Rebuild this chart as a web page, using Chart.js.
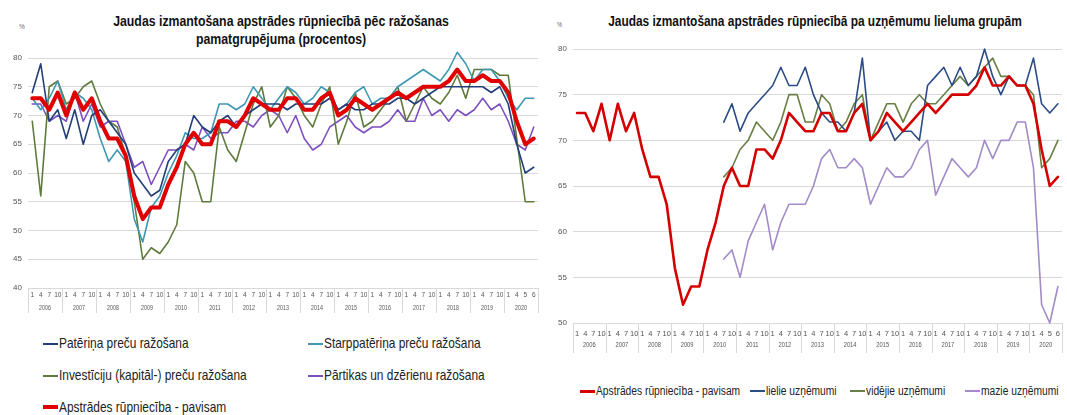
<!DOCTYPE html>
<html>
<head>
<meta charset="utf-8">
<script src="https://cdn.jsdelivr.net/npm/chart.js@4.4.1/dist/chart.umd.min.js"></script>
<style>
  html, body { margin:0; padding:0; background:#fff; }
  #wrap { position:relative; width:1067px; height:415px; overflow:hidden; background:#fff; font-family:"Liberation Sans", Arial, sans-serif; color:#000; }
  .abs { position:absolute; white-space:nowrap; line-height:1; }
  .ttl { font-weight:bold; color:#111; }
  .ctr { transform-origin:50% 50%; }
  .lft { transform-origin:0 50%; }
  .leg { position:absolute; height:0; }
  .leg .sw { position:absolute; left:0; }
  .pct { color:#666; }
  .cbox { position:absolute; }
</style>
</head>
<body>
<div id="wrap">
  <div id="t1a" class="abs ttl ctr" style="left:281px; top:13px; font-size:15px;">Jaudas izmantošana apstrādes rūpniecībā pēc ražošanas</div>
  <div id="t1b" class="abs ttl ctr" style="left:281px; top:31px; font-size:15px;">pamatgrupējuma (procentos)</div>
  <div id="t2" class="abs ttl ctr" style="left:815px; top:13.5px; font-size:14.5px;">Jaudas izmantošana apstrādes rūpniecībā pa uzņēmumu lieluma grupām</div>
  <div class="abs pct lft" style="left:19px; top:23px; font-size:8px;">%</div>
  <div class="abs pct lft" style="left:557px; top:21px; font-size:7px;">%</div>
  <div class="cbox" style="left:0; top:40px; width:545px; height:285px;"><canvas id="c1"></canvas></div>
  <div class="cbox" style="left:540px; top:30px; width:527px; height:330px;"><canvas id="c2"></canvas></div>
  <div id="leg1"></div>
  <div id="leg2"></div>
</div>
<script>
// ---------- data ----------
const years = ['2006','2007','2008','2009','2010','2011','2012','2013','2014','2015','2016','2017','2018','2019','2020'];
const quarterTicks = ['1','4','7','10'];
const quarterTicks2020 = ['1','4','5','6'];

const total = [73,73,71,74,70,74,71,73,69,66,66,63, 56,52,54,54,58,61,65,67,65,65,69,69, 68,70,73,72,71,71,73,73,71,71,73,74, 70,71,73,72,71,72,73,74,73,74,75,75, 75,76,78,76,76,77,76,76,74,69,65,66];
const consumerGoods = [74,79,69,71,66,71,65,70,71,69,67,65, 60,58,56,57,62,64,65,70,68,67,69,70, 68,70,71,72,72,72,71,72,72,72,72,73, 71,72,71,71,72,72,72,73,73,72,73,74, 75,75,75,75,75,75,74,75,72,65,60,61];
const intermediateGoods = [73,71,73,76,71,74,73,71,66,62,64,62, 52,48,54,56,60,63,67,66,66,67,72,72, 71,72,75,73,71,73,75,74,72,73,75,74, 71,72,74,75,72,73,73,75,76,77,78,77, 76,78,81,79,76,78,78,76,73,71,73,73];
const capitalGoods = [69,56,75,76,72,73,75,76,72,69,68,63, 55,45,47,46,48,51,62,60,55,55,68,64, 62,67,72,75,68,70,75,73,70,68,72,75, 65,69,74,68,69,71,73,75,69,72,75,73, 72,74,77,73,78,78,78,77,77,66,55,55];
const foodBeverages = [72,72,69,70,69,74,69,72,68,69,69,65, 61,62,58,61,64,64,65,64,68,66,67,67, 69,69,68,70,71,70,67,70,66,64,65,68, 69,70,68,67,68,68,69,71,69,69,73,70, 71,69,71,70,71,73,71,72,69,65,64,68];

// size groups start at 2010 Q3
const sizeStartYear = '2010', sizeStartQuarter = '7';
const largeEnterprises = [72,74,71,73,74,75,76,78,76,76,78, 75,73,72,72,71,73,79,70,71,72,70,71,71,70,76,77,78,76,78,76,77,80,77,75,77,76,76,79,74,73,74];
const mediumEnterprises = [66,67,69,70,72,71,70,72,75,75,72, 72,75,74,71,72,74,75,70,72,74,74,72,74,75,74,74,75,76,77,76,77,78,79,77,77,76,76,75,67,68,70];
const smallEnterprises = [57,58,55,59,61,63,58,61,63,63,63, 65,68,69,67,67,68,67,63,65,67,66,66,67,69,70,64,66,68,67,66,67,70,68,70,70,72,72,67,52,50,54];

const names1 = ['Patēriņa preču ražošana','Starppatēriņa preču ražošana','Investīciju (kapitāl-) preču ražošana','Pārtikas un dzērienu ražošana','Apstrādes rūpniecība - pavisam'];
const names2 = ['Apstrādes rūpniecība - pavisam','lielie uzņēmumi','vidējie uzņēmumi','mazie uzņēmumi'];
const title1 = 'Jaudas izmantošana apstrādes rūpniecībā pēc ražošanas pamatgrupējuma (procentos)';
const title2 = 'Jaudas izmantošana apstrādes rūpniecībā pa uzņēmumu lieluma grupām';

// ---------- build categories ----------
const labels = [];
const yearOf = [];
years.forEach(y => (y === '2020' ? quarterTicks2020 : quarterTicks).forEach(q => { labels.push(q); yearOf.push(y); }));
const startIdx = labels.findIndex((q, i) => yearOf[i] === sizeStartYear && q === sizeStartQuarter);
const padSeries = arr => labels.map((_, i) => (i >= startIdx && i - startIdx < arr.length) ? arr[i - startIdx] : null);

// ---------- font handling ----------
function hasFont(name) {
  const c = document.createElement('canvas').getContext('2d');
  const s = 'abcdefghijklmnopqrstuvwxyzWM0123';
  c.font = '20px monospace'; const a = c.measureText(s).width;
  c.font = '20px "' + name + '", monospace'; const b = c.measureText(s).width;
  return Math.abs(a - b) > 0.5;
}
const narrow = hasFont('Liberation Sans Narrow');
const FAM = narrow ? '"Liberation Sans Narrow", "Liberation Sans", Arial, sans-serif' : '"Liberation Sans", Arial, sans-serif';
const SX = narrow ? 1 : 0.82;
document.querySelectorAll('.abs').forEach(el => {
  el.style.fontFamily = FAM;
  if (el.classList.contains('ctr')) el.style.transform = 'translateX(-50%) scaleX(' + SX + ')';
  else el.style.transform = 'scaleX(' + SX + ')';
});

// ---------- legends (HTML) ----------
function addLegendItem(parent, x, y, color, width, text, size) {
  const d = document.createElement('div');
  d.className = 'leg';
  d.style.left = x + 'px'; d.style.top = y + 'px';
  const sw = document.createElement('div');
  sw.className = 'sw';
  sw.style.width = '15px'; sw.style.height = width + 'px'; sw.style.top = (-width / 2) + 'px'; sw.style.background = color;
  d.appendChild(sw);
  const t = document.createElement('div');
  t.className = 'abs lft';
  t.style.left = '16px'; t.style.fontSize = size + 'px'; t.style.top = (-size / 2) + 'px';
  t.style.fontFamily = FAM; t.style.transform = 'scaleX(' + SX + ')'; t.style.color = '#222';
  t.textContent = text;
  d.appendChild(t);
  parent.appendChild(d);
}

const colors1 = ['#233f78', '#3e98b3', '#5f7a3c', '#7e4fc0', '#e00000'];
const widths1 = [1.6, 1.6, 1.6, 1.6, 4];
const colors2 = ['#d40000', '#2b4c86', '#6a7f45', '#a28bc9'];
const widths2 = [2.6, 1.6, 1.6, 1.6];

const leg1 = document.getElementById('leg1');
const leg1Pos = [[43,343.5],[308,343.5],[43,375.5],[308,375.5],[43,407]];
names1.forEach((n, k) => addLegendItem(leg1, leg1Pos[k][0], leg1Pos[k][1], colors1[k], k === 4 ? 3.5 : 2, n, 14.5));
const leg2 = document.getElementById('leg2');
const leg2Pos = [[580,391],[750,391],[850,391],[965,391]];
names2.forEach((n, k) => addLegendItem(leg2, leg2Pos[k][0], leg2Pos[k][1], colors2[k], k === 0 ? 3 : 2, n, 12.5));

// ---------- year axis plugin ----------
const yearAxis = {
  id: 'yearAxis',
  afterDraw(chart, args, o) {
    const xs = chart.scales.x, ctx = chart.ctx, bottom = chart.chartArea.bottom;
    const n = chart.data.labels.length;
    const half = (xs.getPixelForValue(1) - xs.getPixelForValue(0)) / 2;
    ctx.save();
    ctx.strokeStyle = '#d9d9d9'; ctx.lineWidth = 1;
    ctx.fillStyle = '#555';
    ctx.font = o.size + 'px ' + FAM;
    ctx.textAlign = 'center'; ctx.textBaseline = 'middle';
    let start = 0;
    const bounds = [];
    for (let i = 0; i <= n; i++) {
      if (i === n || (i > 0 && yearOf[i] !== yearOf[i - 1])) {
        bounds.push([start, i - 1]);
        start = i;
      }
    }
    const lineAt = idx => Math.round(xs.getPixelForValue(idx) - half) + 0.5;
    ctx.beginPath();
    bounds.forEach(([a, b]) => {
      const xa = lineAt(a);
      ctx.moveTo(xa, bottom); ctx.lineTo(xa, bottom + o.sepLen);
    });
    const xe = Math.round(xs.getPixelForValue(n - 1) + half) + 0.5;
    ctx.moveTo(xe, bottom); ctx.lineTo(xe, bottom + o.sepLen);
    ctx.stroke();
    bounds.forEach(([a, b]) => {
      const xc = (xs.getPixelForValue(a) + xs.getPixelForValue(b)) / 2;
      ctx.save();
      ctx.translate(xc, bottom + o.yearOff);
      ctx.scale(SX, 1);
      ctx.fillText(yearOf[a], 0, 0);
      ctx.restore();
    });
    ctx.restore();
  }
};

function makeChart(id, datasets, cfg) {
  return new Chart(document.getElementById(id), {
    type: 'line',
    data: { labels, datasets },
    plugins: [yearAxis],
    options: {
      responsive: true, maintainAspectRatio: false, animation: false,
      devicePixelRatio: 1,
      layout: { autoPadding: false, padding: cfg.padding },
      plugins: { legend: { display: false }, tooltip: { enabled: false }, title: { display: false }, yearAxis: cfg.yearAxis },
      elements: { point: { radius: 0 }, line: { tension: 0, borderJoinStyle: 'round', borderCapStyle: 'round' } },
      scales: {
        x: {
          type: 'category', offset: true,
          grid: { display: false, drawTicks: false },
          border: { display: false },
          ticks: { autoSkip: false, maxRotation: 0, minRotation: 0, padding: cfg.xPad, color: '#555', font: { family: FAM, size: cfg.xFont } },
          afterFit: s => { s.height = cfg.xHeight; }
        },
        y: {
          min: cfg.min, max: cfg.max,
          grid: { color: '#d9d9d9', lineWidth: 1, drawTicks: false },
          border: { display: false },
          ticks: { stepSize: 5, padding: 6, color: '#555', font: { family: FAM, size: cfg.yFont } },
          afterFit: s => { s.width = cfg.yWidth; }
        }
      }
    }
  });
}

const series1 = [consumerGoods, intermediateGoods, capitalGoods, foodBeverages, total];
makeChart('c1', series1.map((d, k) => ({
  label: names1[k], data: d, borderColor: colors1[k], backgroundColor: colors1[k],
  borderWidth: widths1[k], fill: false, clip: false, order: k === 4 ? -1 : k
})), { padding: { top: 18, left: 0, right: 7, bottom: 0 }, xHeight: 37, yWidth: 28, min: 40, max: 80, xPad: 3, xFont: 6.5, yFont: 8,
  yearAxis: { size: 6.5, sepLen: 25, yearOff: 20 } });

const series2 = [total, padSeries(largeEnterprises), padSeries(mediumEnterprises), padSeries(smallEnterprises)];
makeChart('c2', series2.map((d, k) => ({
  label: names2[k], data: d, borderColor: colors2[k], backgroundColor: colors2[k],
  borderWidth: widths2[k], fill: false, clip: false, spanGaps: false, order: k === 0 ? -1 : k
})), { padding: { top: 19, left: 0, right: 5, bottom: 0 }, xHeight: 37, yWidth: 33, min: 50, max: 80, xPad: 6, xFont: 7.5, yFont: 8,
  yearAxis: { size: 7, sepLen: 30, yearOff: 22 } });
</script>
</body>
</html>
